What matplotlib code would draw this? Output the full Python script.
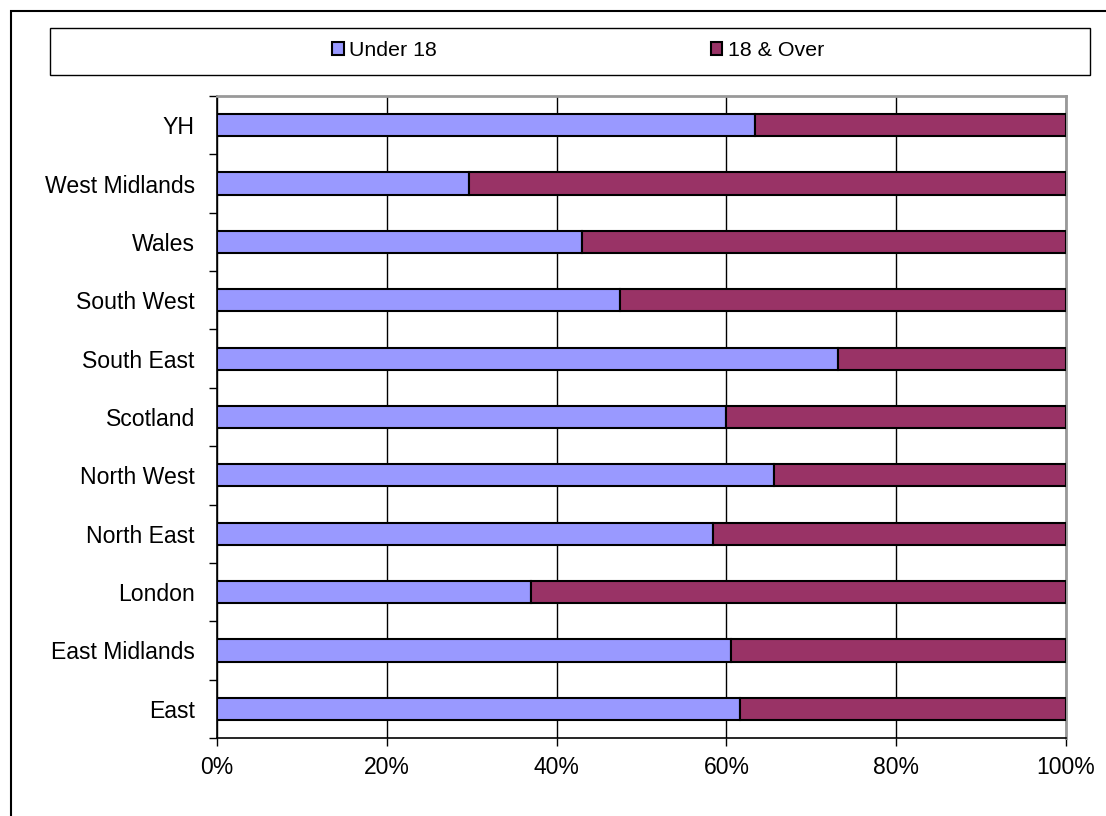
import numpy as np
import matplotlib
matplotlib.use("Agg")
import matplotlib.pyplot as plt
from matplotlib.patches import Rectangle
from matplotlib.ticker import FixedLocator, PercentFormatter

plt.rcParams["font.family"] = ["Liberation Sans", "DejaVu Sans"]

# regions listed bottom to top, as drawn
regions = ["East", "East Midlands", "London", "North East", "North West",
           "Scotland", "South East", "South West", "Wales", "West Midlands", "YH"]
under_18 = [61.6, 60.5, 37.0, 58.4, 65.6, 59.9, 73.1, 47.5, 43.0, 29.7, 63.4]
over_18 = [100 - v for v in under_18]
series_names = ["Under 18", "18 & Over"]
colors = ["#9999FF", "#993366"]

W, H = 1106, 816
fig = plt.figure(figsize=(W / 100, H / 100), dpi=100)
ax = fig.add_axes([217 / W, 1 - 738 / H, (1066 - 217) / W, (738 - 96) / H])

y = np.arange(len(regions))
ax.barh(y, under_18, height=0.38, color=colors[0], edgecolor="black",
        linewidth=1.5, label=series_names[0], zorder=3)
ax.barh(y, over_18, left=under_18, height=0.38, color=colors[1],
        edgecolor="black", linewidth=1.5, label=series_names[1], zorder=3)

ax.set_xlim(0, 100)
ax.set_ylim(-0.5, len(regions) - 0.5)
ax.set_xticks(np.arange(0, 101, 20))
ax.xaxis.set_major_formatter(PercentFormatter(decimals=0))
ax.set_yticks(y)
ax.set_yticklabels(regions)
ax.yaxis.set_minor_locator(FixedLocator(np.arange(-0.5, len(regions), 1)))

ax.tick_params(axis="y", which="major", length=0, pad=16, labelsize=16.6)
ax.tick_params(axis="y", which="minor", length=6, width=1, direction="out")
ax.tick_params(axis="x", length=6, width=1, direction="out", pad=7, labelsize=16.5)

ax.grid(axis="x", color="black", linewidth=1, zorder=0)
ax.spines["left"].set_linewidth(1.2)
ax.spines["bottom"].set_linewidth(1.2)
for s in ["top", "right"]:
    ax.spines[s].set_color("#999999")
    ax.spines[s].set_linewidth(2)

# outer chart border
fig.patches.append(Rectangle((11 / W, -0.1), 1.2, 1.1 - 11 / H,
                             transform=fig.transFigure, fill=False,
                             edgecolor="black", linewidth=1.5, clip_on=False))
# legend box
fig.patches.append(Rectangle((50 / W, 1 - 75 / H), (1090 - 50) / W, 47 / H,
                             transform=fig.transFigure, fill=False,
                             edgecolor="black", linewidth=1))
fig.legend(loc="center", bbox_to_anchor=(578 / W, 1 - 51 / H), ncol=2,
           frameon=False, fontsize=15.4, handlelength=0.55, handleheight=0.55,
           handletextpad=0.25, columnspacing=12.8)

fig.savefig("out.png", dpi=100)
